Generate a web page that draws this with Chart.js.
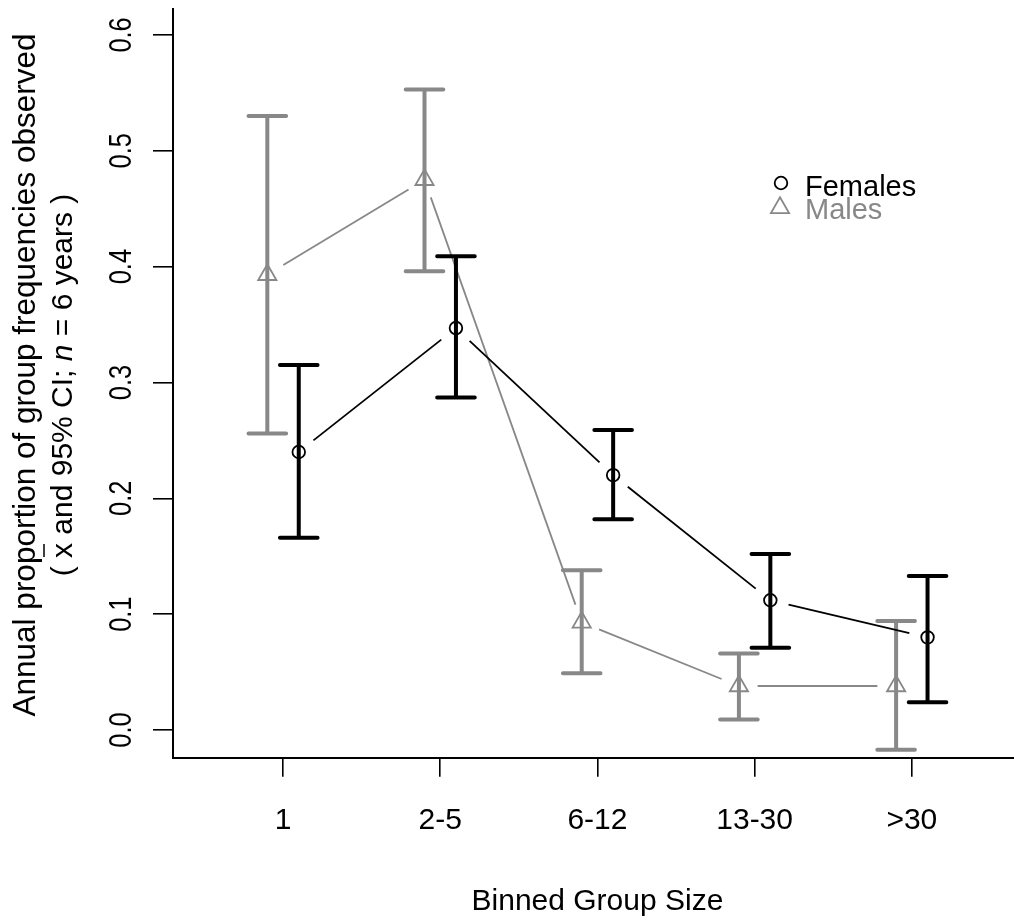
<!DOCTYPE html>
<html>
<head>
<meta charset="utf-8">
<script src="https://cdn.jsdelivr.net/npm/chart.js@4"></script>
<style>
  html, body { margin: 0; padding: 0; background: #fff; }
  #chart { display: block; }
</style>
</head>
<body>
<canvas id="chart" width="1014" height="921"></canvas>
<script>
// binned group sizes and annual proportions (mean with 95% CI)
const groupSizes = ['1', '2-5', '6-12', '13-30', '>30'];
const femaleMean = [0.240, 0.347, 0.220, 0.112, 0.080];
const femaleLow = [0.166, 0.287, 0.182, 0.071, 0.024];
const femaleHigh = [0.315, 0.409, 0.259, 0.152, 0.133];
const maleMean = [0.393, 0.475, 0.093, 0.038, 0.038];
const maleLow = [0.256, 0.396, 0.049, 0.009, -0.017];
const maleHigh = [0.530, 0.553, 0.138, 0.066, 0.094];
const yTicks = [0, 0.1, 0.2, 0.3, 0.4, 0.5, 0.6];

const FONT = "'Liberation Sans', Arial, sans-serif";
const GREY = '#888888';

// points sit a little either side of each bin
const males = maleMean.map((v, i) => ({ x: i + 1 - 0.1, y: v, lo: maleLow[i], hi: maleHigh[i] }));
const females = femaleMean.map((v, i) => ({ x: i + 1 + 0.1, y: v, lo: femaleLow[i], hi: femaleHigh[i] }));

// error bars and the broken connecting lines (R type = "b")
const errorBars = {
  id: 'errorBars',
  beforeDatasetsDraw(chart) {
    const ctx = chart.ctx;
    const xs = chart.scales.x, ys = chart.scales.y;
    chart.data.datasets.forEach((ds, di) => {
      const col = ds.borderColor;
      ctx.save();
      ctx.strokeStyle = col;
      ctx.lineWidth = 4;
      ctx.lineCap = 'round';
      ds.data.forEach(p => {
        const x = xs.getPixelForValue(p.x);
        const y1 = ys.getPixelForValue(p.lo);
        const y2 = ys.getPixelForValue(p.hi);
        ctx.beginPath();
        ctx.moveTo(x, y1); ctx.lineTo(x, y2);
        ctx.moveTo(x - 18.8, y1); ctx.lineTo(x + 18.8, y1);
        ctx.moveTo(x - 18.8, y2); ctx.lineTo(x + 18.8, y2);
        ctx.stroke();
      });
      // connecting segments, stopped short of each marker
      const pts = chart.getDatasetMeta(di).data;
      const gap = 18.7;
      ctx.lineWidth = 1.8;
      ctx.lineCap = 'butt';
      for (let i = 0; i < pts.length - 1; i++) {
        const a = pts[i], b = pts[i + 1];
        const dx = b.x - a.x, dy = b.y - a.y;
        const len = Math.hypot(dx, dy);
        const ux = dx / len, uy = dy / len;
        ctx.beginPath();
        ctx.moveTo(a.x + ux * gap, a.y + uy * gap);
        ctx.lineTo(b.x - ux * gap, b.y - uy * gap);
        ctx.stroke();
      }
      ctx.restore();
    });
  }
};

// tick labels, axis titles and the legend
const annotations = {
  id: 'annotations',
  afterDraw(chart) {
    const ctx = chart.ctx;
    const xs = chart.scales.x, ys = chart.scales.y;
    ctx.save();
    ctx.fillStyle = '#000';

    // y tick labels, reading upwards
    ctx.font = '31px ' + FONT;
    ctx.textAlign = 'center';
    ctx.textBaseline = 'middle';
    yTicks.forEach(v => {
      ctx.save();
      ctx.translate(122, ys.getPixelForValue(v));
      ctx.rotate(-Math.PI / 2);
      ctx.scale(0.82, 1);
      ctx.fillText(v.toFixed(1), 0, 0);
      ctx.restore();
    });

    // x tick labels
    ctx.font = '30px ' + FONT;
    xs.ticks.forEach((t, i) => {
      ctx.fillText(groupSizes[i], xs.getPixelForValue(t.value), 821);
    });

    // y axis title, first line
    ctx.textBaseline = 'alphabetic';
    ctx.save();
    ctx.translate(35, 375);
    ctx.rotate(-Math.PI / 2);
    ctx.font = '31.5px ' + FONT;
    ctx.fillText('Annual proportion of group frequencies observed', 0, 0);
    ctx.restore();

    // second line: ( x-bar and 95% CI; n = 6 years )
    ctx.save();
    ctx.translate(72, 385);
    ctx.rotate(-Math.PI / 2);
    ctx.textAlign = 'left';
    const normal = '30px ' + FONT, italic = 'italic 30px ' + FONT;
    const parts = [
      ['( ', normal], ['x', normal, true], [' and 95% CI; ', normal],
      ['n', italic], [' = 6 years )', normal]
    ];
    let total = 0;
    parts.forEach(p => { ctx.font = p[1]; p.w = ctx.measureText(p[0]).width; total += p.w; });
    let cx = -total / 2;
    parts.forEach(p => {
      ctx.font = p[1];
      ctx.fillText(p[0], cx, 0);
      if (p[2]) {
        ctx.beginPath();
        ctx.lineWidth = 1.5;
        ctx.strokeStyle = '#000';
        ctx.moveTo(cx + 1, -28);
        ctx.lineTo(cx + p.w - 1, -28);
        ctx.stroke();
      }
      cx += p.w;
    });
    ctx.restore();

    // x axis title, centred on the plotting region
    ctx.font = '30px ' + FONT;
    ctx.textAlign = 'center';
    ctx.fillText('Binned Group Size', xs.getPixelForValue(3), 910);

    // legend
    ctx.lineWidth = 1.8;
    ctx.strokeStyle = '#000';
    ctx.beginPath();
    ctx.arc(781, 183, 6.3, 0, Math.PI * 2);
    ctx.stroke();
    const r = 10.5;
    ctx.strokeStyle = GREY;
    ctx.beginPath();
    ctx.moveTo(780, 207.8 - r);
    ctx.lineTo(780 + r * 0.866, 207.8 + r / 2);
    ctx.lineTo(780 - r * 0.866, 207.8 + r / 2);
    ctx.closePath();
    ctx.stroke();
    ctx.font = '29px ' + FONT;
    ctx.textAlign = 'left';
    ctx.fillStyle = '#000';
    ctx.fillText('Females', 805, 196);
    ctx.fillStyle = GREY;
    ctx.fillText('Males', 805, 219);
    ctx.restore();
  }
};

new Chart(document.getElementById('chart'), {
  type: 'scatter',
  data: {
    datasets: [
      {
        label: 'Males',
        data: males,
        borderColor: GREY,
        backgroundColor: 'rgba(0,0,0,0)',
        pointStyle: 'triangle',
        pointRadius: 10.5,
        pointBorderWidth: 1.8,
        showLine: false
      },
      {
        label: 'Females',
        data: females,
        borderColor: '#000',
        backgroundColor: 'rgba(0,0,0,0)',
        pointStyle: 'circle',
        pointRadius: 6.3,
        pointBorderWidth: 1.8,
        showLine: false
      }
    ]
  },
  options: {
    responsive: false,
    animation: false,
    devicePixelRatio: 1,
    layout: { autoPadding: false, padding: { top: 9, left: 0, right: 0, bottom: 0 } },
    plugins: {
      legend: { display: false },
      tooltip: { enabled: false }
    },
    scales: {
      x: {
        type: 'linear',
        min: 0.3,
        max: 5.65,
        afterBuildTicks: s => { s.ticks = groupSizes.map((g, i) => ({ value: i + 1 })); },
        afterFit: s => { s.height = 163.3; },
        ticks: { display: false },
        grid: { drawOnChartArea: false, drawTicks: true, tickLength: 19, color: '#000', lineWidth: 1.6 },
        border: { display: true, color: '#000', width: 2 }
      },
      y: {
        type: 'linear',
        min: -0.0239,
        max: 0.6224,
        afterBuildTicks: s => { s.ticks = yTicks.map(v => ({ value: v })); },
        afterFit: s => { s.width = 173; },
        ticks: { display: false },
        grid: { drawOnChartArea: false, drawTicks: true, tickLength: 20, color: '#000', lineWidth: 1.6 },
        border: { display: true, color: '#000', width: 2 }
      }
    }
  },
  plugins: [errorBars, annotations]
});
</script>
</body>
</html>
